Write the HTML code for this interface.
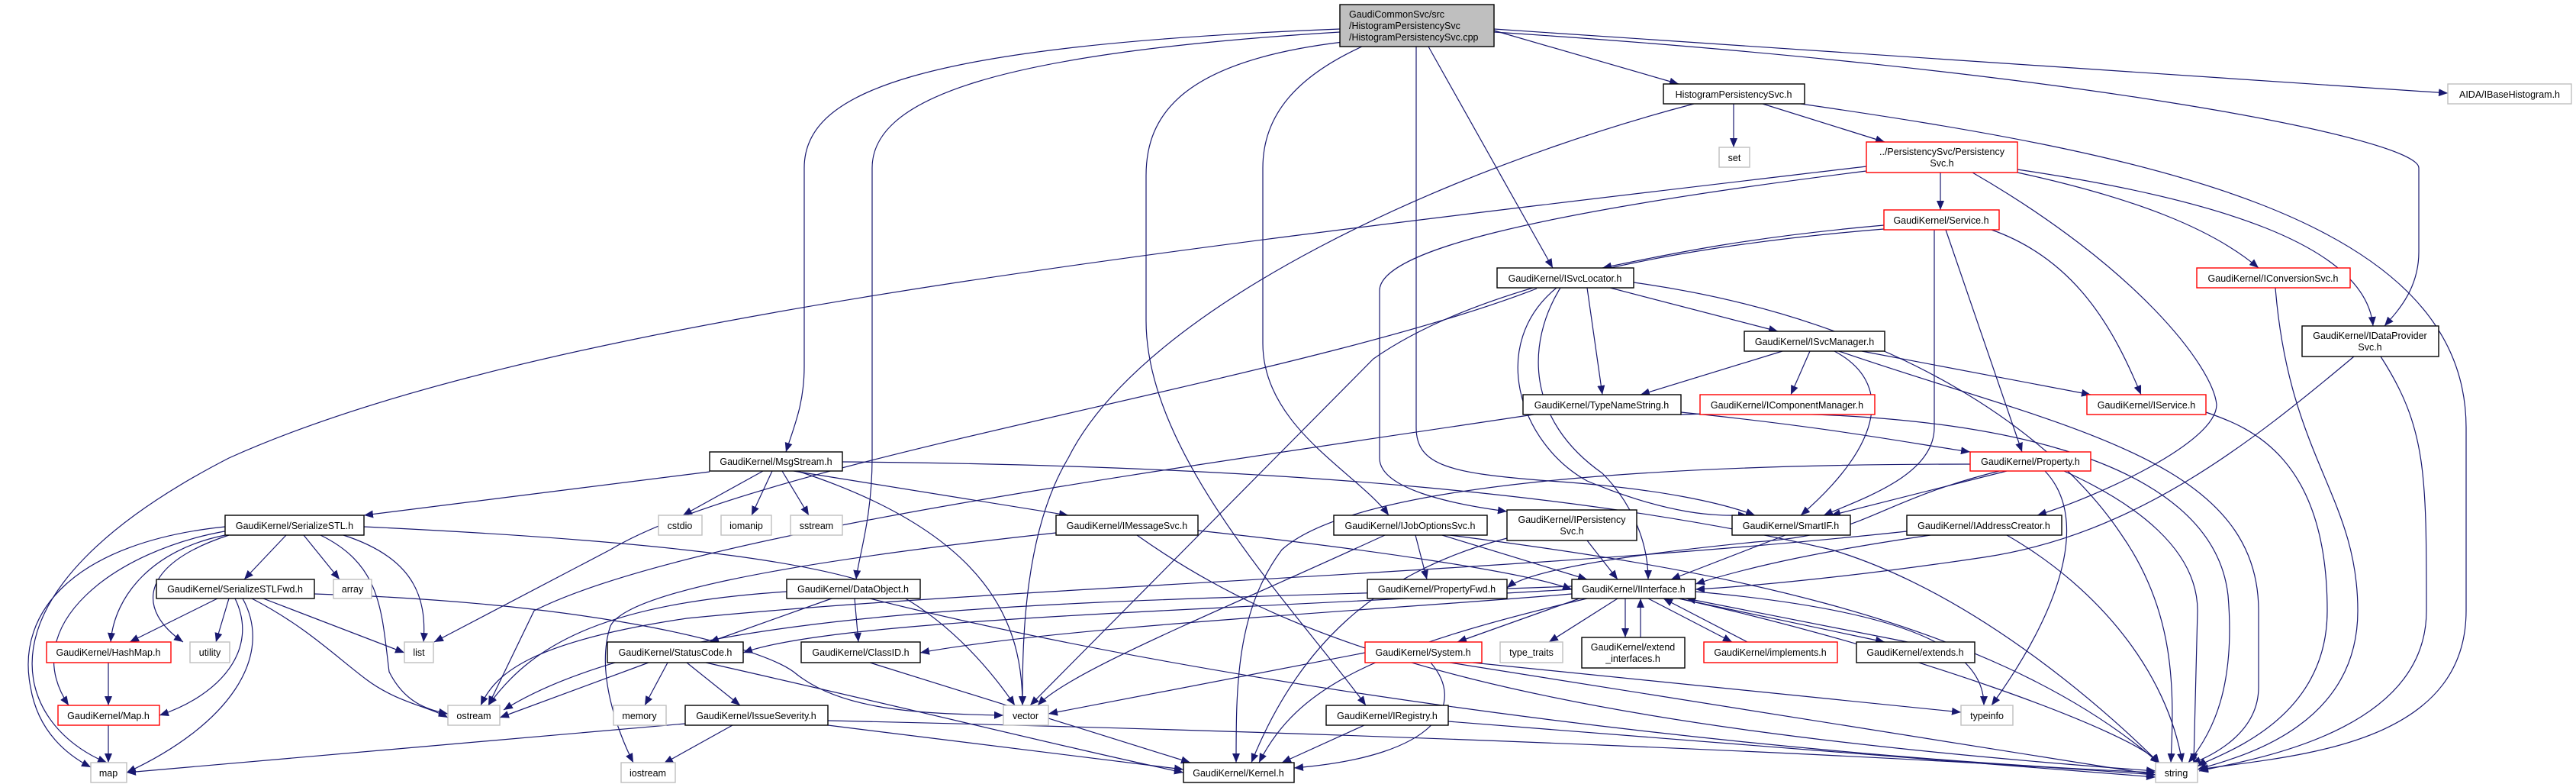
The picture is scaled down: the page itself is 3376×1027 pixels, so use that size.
<!DOCTYPE html>
<html><head><meta charset="utf-8"><style>
html,body{margin:0;padding:0;background:#fff}
svg{display:block}
text{font-family:"Liberation Sans",Arial,sans-serif;font-size:12.5px;fill:#000}
.e{fill:none;stroke:#191970;stroke-width:1.2}
.b{fill:#fff;stroke:#000;stroke-width:1.4}
.r{fill:#fff;stroke:#ff0000;stroke-width:1.4}
.g{fill:#fff;stroke:#bfbfbf;stroke-width:1.4}
</style></head><body>
<svg width="3376" height="1027" viewBox="0 0 3376 1027" xmlns="http://www.w3.org/2000/svg">
<defs><marker id="a" markerUnits="userSpaceOnUse" markerWidth="14" markerHeight="10" refX="12" refY="5" orient="auto"><path d="M0,0 L12,5 L0,10 z" fill="#191970"/></marker></defs>
<g class="e" marker-end="url(#a)">
<path d="M1958,40 L2200,110"/>
<path d="M1958,38 L3208,122"/>
<path d="M1958,42 C2700,90 3170,180 3170,220 L3170,330 C3170,380 3140,410 3125,427"/>
<path d="M1756,38 C1200,60 1054,120 1054,220 L1054,480 C1054,530 1040,560 1030,592"/>
<path d="M1756,42 C1300,70 1143,130 1143,220 L1143,600 C1143,680 1125,730 1122,759"/>
<path d="M1760,55 C1550,80 1502,150 1502,230 L1502,420 C1502,600 1700,800 1790,924"/>
<path d="M1785,61 C1700,100 1655,150 1655,220 L1655,450 C1655,560 1780,620 1820,675"/>
<path d="M1856,61 L1856,560 C1856,610 1900,620 2030,630 C2180,640 2260,660 2300,675"/>
<path d="M1872,61 L2035,351"/>
<path d="M2272,136 L2272,193"/>
<path d="M2310,136 L2470,186"/>
<path d="M2360,136 C2800,200 3232,280 3232,560 L3232,800 C3232,980 3000,990 2882,1008"/>
<path d="M2220,136 C1900,220 1500,400 1400,600 C1340,700 1340,850 1340,924"/>
<path d="M2446,218 C1500,330 700,420 300,600 C-50,780 20,950 140,999"/>
<path d="M2446,224 C2000,280 1810,330 1808,380 L1808,600 C1808,640 1900,660 1975,670"/>
<path d="M2543,226 L2543,275"/>
<path d="M2644,226 C2800,260 2900,300 2960,351"/>
<path d="M2644,222 C2900,260 3100,320 3110,427"/>
<path d="M2585,226 C2800,350 2900,480 2905,530 C2905,580 2750,650 2670,675"/>
<path d="M2469,295 C2300,310 2200,330 2100,351"/>
<path d="M2469,300 C2100,330 1900,400 1800,470 L1350,924"/>
<path d="M2535,301 L2535,560 C2535,620 2450,650 2390,675"/>
<path d="M2550,301 L2650,592"/>
<path d="M2610,301 C2720,340 2770,430 2806,517"/>
<path d="M2080,377 L2100,517"/>
<path d="M2110,377 L2330,434"/>
<path d="M2141,370 C2500,420 2700,580 2780,700 C2850,800 2850,900 2845,999"/>
<path d="M2040,377 C1950,450 1990,580 2080,630 C2200,680 2260,675 2290,675"/>
<path d="M2045,377 C2000,450 2000,550 2100,620 C2130,650 2160,700 2160,759"/>
<path d="M2014,378 C1700,500 1000,600 800,720 L569,841"/>
<path d="M2336,460 L2150,517"/>
<path d="M2372,460 L2347,517"/>
<path d="M2440,460 L2740,517"/>
<path d="M2404,460 C2480,500 2470,580 2360,675"/>
<path d="M2410,460 C2700,560 2960,600 2960,800 L2960,900 C2960,960 2900,990 2872,1000"/>
<path d="M2203,540 C2400,560 2500,580 2582,592"/>
<path d="M2203,543 C2600,530 2900,600 2920,780 C2930,900 2900,960 2868,999"/>
<path d="M2010,543 C1500,620 900,700 700,800 L640,924"/>
<path d="M2891,540 C2950,560 3050,600 3050,800 C3050,950 2900,990 2880,1004"/>
<path d="M2982,377 C3000,600 3090,650 3090,800 C3090,960 2920,995 2880,1008"/>
<path d="M3120,467 C3180,560 3180,620 3180,800 C3180,960 2950,995 2882,1010"/>
<path d="M3085,467 C2950,580 2800,700 2600,730 C2400,760 2260,770 2222,772"/>
<path d="M2630,617 L2400,675"/>
<path d="M2705,617 C2800,660 2880,720 2880,800 L2875,999"/>
<path d="M2680,617 C2740,680 2700,800 2610,924"/>
<path d="M2582,608 C2200,608 1780,630 1680,720 C1620,800 1620,900 1620,999"/>
<path d="M2620,617 C2450,660 2450,700 2300,710 C2100,730 2000,750 1975,770"/>
<path d="M930,618 L477,675"/>
<path d="M1000,617 L895,675"/>
<path d="M1012,617 L985,675"/>
<path d="M1025,617 L1060,675"/>
<path d="M1040,617 L1400,675"/>
<path d="M1045,617 C1300,700 1340,820 1340,924"/>
<path d="M1104,605 C1700,610 2100,650 2400,720 C2600,780 2780,950 2830,1000"/>
<path d="M375,701 L320,759"/>
<path d="M398,701 L445,759"/>
<path d="M295,701 C200,720 150,780 145,841"/>
<path d="M300,701 C180,740 180,800 240,841"/>
<path d="M300,695 C150,720 20,820 90,924"/>
<path d="M295,690 C100,710 20,800 40,900 C50,960 90,990 119,1005"/>
<path d="M450,701 C540,730 560,780 555,841"/>
<path d="M420,701 C500,740 500,800 510,880 C530,920 560,930 587,935"/>
<path d="M477,690 C900,710 1100,740 1180,780 C1250,820 1300,880 1330,924"/>
<path d="M285,784 L170,841"/>
<path d="M300,784 L283,841"/>
<path d="M308,784 C340,850 290,910 209,937"/>
<path d="M318,784 C360,860 300,950 166,1012"/>
<path d="M345,784 L530,855"/>
<path d="M330,784 C400,820 440,860 480,890 C520,920 560,925 587,940"/>
<path d="M412,778 C800,790 1000,850 1040,880 C1100,930 1200,935 1315,937"/>
<path d="M142,868 L142,924"/>
<path d="M142,950 L142,999"/>
<path d="M1570,695 C1800,720 2000,750 2060,772"/>
<path d="M1490,701 C1700,850 2000,950 2825,1010"/>
<path d="M1384,698 C1000,740 820,780 800,820 C780,880 810,960 830,999"/>
<path d="M1855,701 L1870,759"/>
<path d="M1890,701 L2080,759"/>
<path d="M1815,701 C1600,800 1400,880 1360,924"/>
<path d="M1900,701 C2200,740 2600,800 2830,1000"/>
<path d="M2080,708 L2120,759"/>
<path d="M1975,705 C1800,750 1700,850 1640,999"/>
<path d="M2340,701 L2190,759"/>
<path d="M2530,701 C2400,720 2300,740 2222,765"/>
<path d="M2630,701 C2750,770 2840,880 2860,999"/>
<path d="M2499,696 C2000,750 1300,770 900,810 C700,840 650,880 630,924"/>
<path d="M1090,784 L930,841"/>
<path d="M1120,784 L1125,841"/>
<path d="M1031,775 C800,790 700,840 640,924"/>
<path d="M1140,784 C1600,900 2300,990 2825,1012"/>
<path d="M2060,772 C1600,800 1100,810 974,855"/>
<path d="M2060,778 C1800,800 1400,820 1206,855"/>
<path d="M2070,784 L1910,841"/>
<path d="M2120,784 L2030,841"/>
<path d="M2130,784 L2130,835"/>
<path d="M2150,835 L2150,784"/>
<path d="M2160,784 L2270,841"/>
<path d="M2290,841 L2180,784"/>
<path d="M2200,784 L2470,841"/>
<path d="M2500,841 L2210,784"/>
<path d="M2222,775 C2500,800 2600,850 2600,924"/>
<path d="M2200,784 C2500,850 2800,960 2830,1000"/>
<path d="M2060,768 C1500,790 900,780 660,930"/>
<path d="M2080,784 C1800,850 1700,900 1650,999"/>
<path d="M850,868 L655,940"/>
<path d="M875,868 L845,924"/>
<path d="M900,868 L970,924"/>
<path d="M925,868 C1200,930 1400,980 1551,1012"/>
<path d="M898,948 L166,1012"/>
<path d="M960,950 L870,1000"/>
<path d="M1085,950 L1551,1008"/>
<path d="M1085,944 C1800,960 2500,990 2825,1015"/>
<path d="M1140,868 L1560,999"/>
<path d="M1789,855 L1374,935"/>
<path d="M1875,868 C1920,920 1890,990 1696,1006"/>
<path d="M1900,868 L2825,1015"/>
<path d="M1930,868 L2570,933"/>
<path d="M1788,950 L1680,999"/>
<path d="M1898,945 L2825,1018"/>
</g>
<g>
<rect x="1756" y="6" width="202" height="55" fill="#bfbfbf" stroke="#000" stroke-width="1.4"/>
<text x="1768" y="23">GaudiCommonSvc/src</text>
<text x="1768" y="38">/HistogramPersistencySvc</text>
<text x="1768" y="53">/HistogramPersistencySvc.cpp</text>
</g>
<g text-anchor="middle">
<rect class="b" x="2180" y="110" width="185" height="26"/><text x="2272" y="128" text-anchor="middle">HistogramPersistencySvc.h</text>
<rect class="g" x="3208" y="110" width="162" height="26"/><text x="3289" y="128" text-anchor="middle">AIDA/IBaseHistogram.h</text>
<rect class="g" x="2253" y="193" width="40" height="26"/><text x="2273" y="211" text-anchor="middle">set</text>
<rect class="r" x="2446" y="186" width="198" height="40"/><text x="2545" y="203" text-anchor="middle">../PersistencySvc/Persistency</text><text x="2545" y="218" text-anchor="middle">Svc.h</text>
<rect class="r" x="2469" y="275" width="151" height="26"/><text x="2544" y="293" text-anchor="middle">GaudiKernel/Service.h</text>
<rect class="b" x="1962" y="351" width="179" height="26"/><text x="2051" y="369" text-anchor="middle">GaudiKernel/ISvcLocator.h</text>
<rect class="r" x="2879" y="351" width="201" height="26"/><text x="2979" y="369" text-anchor="middle">GaudiKernel/IConversionSvc.h</text>
<rect class="b" x="3017" y="427" width="179" height="40"/><text x="3106" y="444" text-anchor="middle">GaudiKernel/IDataProvider</text><text x="3106" y="459" text-anchor="middle">Svc.h</text>
<rect class="b" x="2286" y="434" width="184" height="26"/><text x="2378" y="452" text-anchor="middle">GaudiKernel/ISvcManager.h</text>
<rect class="b" x="1996" y="517" width="207" height="26"/><text x="2099" y="535" text-anchor="middle">GaudiKernel/TypeNameString.h</text>
<rect class="r" x="2228" y="517" width="229" height="26"/><text x="2342" y="535" text-anchor="middle">GaudiKernel/IComponentManager.h</text>
<rect class="r" x="2735" y="517" width="156" height="26"/><text x="2813" y="535" text-anchor="middle">GaudiKernel/IService.h</text>
<rect class="b" x="930" y="592" width="174" height="25"/><text x="1017" y="609" text-anchor="middle">GaudiKernel/MsgStream.h</text>
<rect class="r" x="2582" y="592" width="158" height="25"/><text x="2661" y="609" text-anchor="middle">GaudiKernel/Property.h</text>
<rect class="b" x="295" y="675" width="182" height="26"/><text x="386" y="693" text-anchor="middle">GaudiKernel/SerializeSTL.h</text>
<rect class="g" x="863" y="675" width="57" height="26"/><text x="891" y="693" text-anchor="middle">cstdio</text>
<rect class="g" x="945" y="675" width="66" height="26"/><text x="978" y="693" text-anchor="middle">iomanip</text>
<rect class="g" x="1036" y="675" width="68" height="26"/><text x="1070" y="693" text-anchor="middle">sstream</text>
<rect class="b" x="1384" y="675" width="186" height="26"/><text x="1477" y="693" text-anchor="middle">GaudiKernel/IMessageSvc.h</text>
<rect class="b" x="1748" y="675" width="201" height="26"/><text x="1848" y="693" text-anchor="middle">GaudiKernel/IJobOptionsSvc.h</text>
<rect class="b" x="1975" y="668" width="170" height="40"/><text x="2060" y="685" text-anchor="middle">GaudiKernel/IPersistency</text><text x="2060" y="700" text-anchor="middle">Svc.h</text>
<rect class="b" x="2270" y="675" width="155" height="26"/><text x="2347" y="693" text-anchor="middle">GaudiKernel/SmartIF.h</text>
<rect class="b" x="2499" y="675" width="203" height="26"/><text x="2600" y="693" text-anchor="middle">GaudiKernel/IAddressCreator.h</text>
<rect class="b" x="205" y="759" width="207" height="25"/><text x="308" y="776" text-anchor="middle">GaudiKernel/SerializeSTLFwd.h</text>
<rect class="g" x="437" y="759" width="50" height="25"/><text x="462" y="776" text-anchor="middle">array</text>
<rect class="b" x="1031" y="759" width="175" height="25"/><text x="1118" y="776" text-anchor="middle">GaudiKernel/DataObject.h</text>
<rect class="b" x="1792" y="759" width="183" height="25"/><text x="1883" y="776" text-anchor="middle">GaudiKernel/PropertyFwd.h</text>
<rect class="b" x="2060" y="759" width="162" height="25"/><text x="2141" y="776" text-anchor="middle">GaudiKernel/IInterface.h</text>
<rect class="r" x="61" y="841" width="163" height="27"/><text x="142" y="859" text-anchor="middle">GaudiKernel/HashMap.h</text>
<rect class="g" x="249" y="841" width="52" height="27"/><text x="275" y="859" text-anchor="middle">utility</text>
<rect class="g" x="530" y="841" width="38" height="27"/><text x="549" y="859" text-anchor="middle">list</text>
<rect class="b" x="796" y="841" width="178" height="27"/><text x="885" y="859" text-anchor="middle">GaudiKernel/StatusCode.h</text>
<rect class="b" x="1050" y="841" width="156" height="27"/><text x="1128" y="859" text-anchor="middle">GaudiKernel/ClassID.h</text>
<rect class="r" x="1789" y="841" width="153" height="27"/><text x="1865" y="859" text-anchor="middle">GaudiKernel/System.h</text>
<rect class="g" x="1966" y="841" width="82" height="27"/><text x="2007" y="859" text-anchor="middle">type_traits</text>
<rect class="b" x="2073" y="835" width="135" height="40"/><text x="2140" y="852" text-anchor="middle">GaudiKernel/extend</text><text x="2140" y="867" text-anchor="middle">_interfaces.h</text>
<rect class="r" x="2233" y="841" width="175" height="27"/><text x="2320" y="859" text-anchor="middle">GaudiKernel/implements.h</text>
<rect class="b" x="2433" y="841" width="155" height="27"/><text x="2510" y="859" text-anchor="middle">GaudiKernel/extends.h</text>
<rect class="r" x="76" y="924" width="133" height="26"/><text x="142" y="942" text-anchor="middle">GaudiKernel/Map.h</text>
<rect class="g" x="587" y="924" width="68" height="26"/><text x="621" y="942" text-anchor="middle">ostream</text>
<rect class="g" x="804" y="924" width="69" height="26"/><text x="838" y="942" text-anchor="middle">memory</text>
<rect class="b" x="898" y="924" width="187" height="26"/><text x="991" y="942" text-anchor="middle">GaudiKernel/IssueSeverity.h</text>
<rect class="g" x="1315" y="924" width="59" height="26"/><text x="1344" y="942" text-anchor="middle">vector</text>
<rect class="b" x="1738" y="924" width="160" height="26"/><text x="1818" y="942" text-anchor="middle">GaudiKernel/IRegistry.h</text>
<rect class="g" x="2570" y="924" width="68" height="26"/><text x="2604" y="942" text-anchor="middle">typeinfo</text>
<rect class="g" x="119" y="999" width="47" height="26"/><text x="142" y="1017" text-anchor="middle">map</text>
<rect class="g" x="814" y="999" width="71" height="26"/><text x="849" y="1017" text-anchor="middle">iostream</text>
<rect class="b" x="1551" y="999" width="145" height="26"/><text x="1623" y="1017" text-anchor="middle">GaudiKernel/Kernel.h</text>
<rect class="g" x="2825" y="999" width="55" height="26"/><text x="2852" y="1017" text-anchor="middle">string</text>
</g>
</svg>
</body></html>
